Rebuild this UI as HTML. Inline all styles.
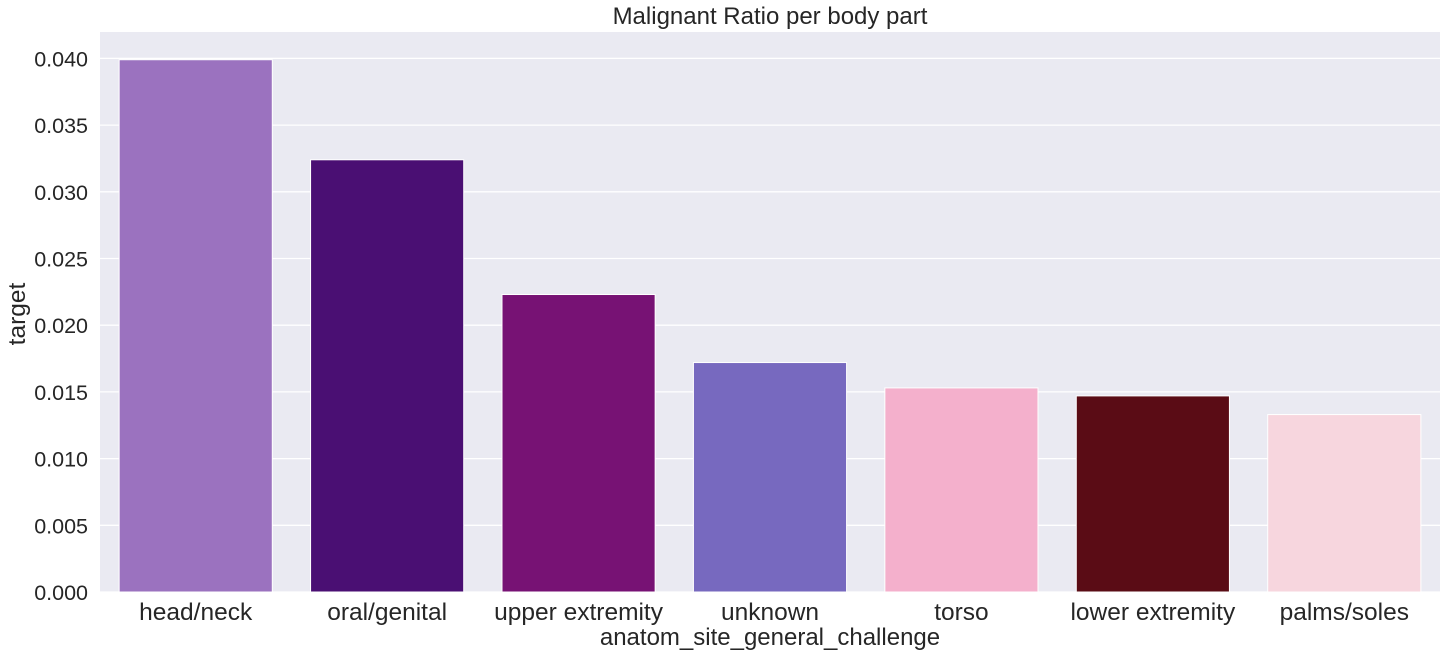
<!DOCTYPE html>
<html><head><meta charset="utf-8"><style>
body{margin:0;background:#fff;}
svg text{font-family:"Liberation Sans",Arial,sans-serif;fill:#262626;}
</style></head><body>
<svg id="chart" width="1448" height="656" xmlns="http://www.w3.org/2000/svg">
<text x="770" y="24" text-anchor="middle" font-size="24">Malignant Ratio per body part</text>
<rect x="100" y="32" width="1340" height="560" fill="#eaeaf2"/>
<g id="grid"></g><g id="bars"></g><g id="yticks"></g><g id="xticks"></g>
<text x="770" y="645" text-anchor="middle" font-size="24">anatom_site_general_challenge</text>
<text transform="translate(25,314) rotate(-90)" text-anchor="middle" font-size="24.5">target</text>
</svg>
<script>
const categories=["head/neck","oral/genital","upper extremity","unknown","torso","lower extremity","palms/soles"];
const values=[0.0399,0.0324,0.0223,0.0172,0.0153,0.0147,0.0133];
const colors=["#9b72bf","#4a0f73","#771274","#7769bf","#f4b0cc","#5a0c15","#f7d6de"];
const yTicks=[0,0.005,0.010,0.015,0.020,0.025,0.030,0.035,0.040];
const NS="http://www.w3.org/2000/svg";
const x0=100,plotW=1340,yBase=592,pxPer=13340;
const band=plotW/categories.length;
const y=v=>yBase-v*pxPer;
const g=document.getElementById('grid'),b=document.getElementById('bars'),yt=document.getElementById('yticks'),xt=document.getElementById('xticks');
yTicks.forEach(t=>{
 const l=document.createElementNS(NS,'line');
 l.setAttribute('x1',x0);l.setAttribute('x2',x0+plotW);l.setAttribute('y1',y(t));l.setAttribute('y2',y(t));
 l.setAttribute('stroke','#fff');l.setAttribute('stroke-width','1.3');
 
 
 g.appendChild(l);
 const tx=document.createElementNS(NS,'text');
 tx.setAttribute('x',88);tx.setAttribute('y',y(t)+8);tx.setAttribute('text-anchor','end');tx.setAttribute('font-size','21.5');
 tx.textContent=t.toFixed(3);
 
 
 yt.appendChild(tx);
});
categories.forEach((c,i)=>{
 const cx=x0+band*(i+0.5),w=band*0.8;
 const r=document.createElementNS(NS,'rect');
 r.setAttribute('x',cx-w/2);r.setAttribute('width',w);r.setAttribute('y',y(values[i]));r.setAttribute('height',yBase-y(values[i]));
 r.setAttribute('fill',colors[i]);r.setAttribute('stroke','#fff');r.setAttribute('stroke-width','1');
 
 
 b.appendChild(r);
 const tx=document.createElementNS(NS,'text');
 tx.setAttribute('x',cx);tx.setAttribute('y',620);tx.setAttribute('text-anchor','middle');tx.setAttribute('font-size','24.5');
 tx.textContent=c;
 
 
 xt.appendChild(tx);
});
</script>
</body></html>
